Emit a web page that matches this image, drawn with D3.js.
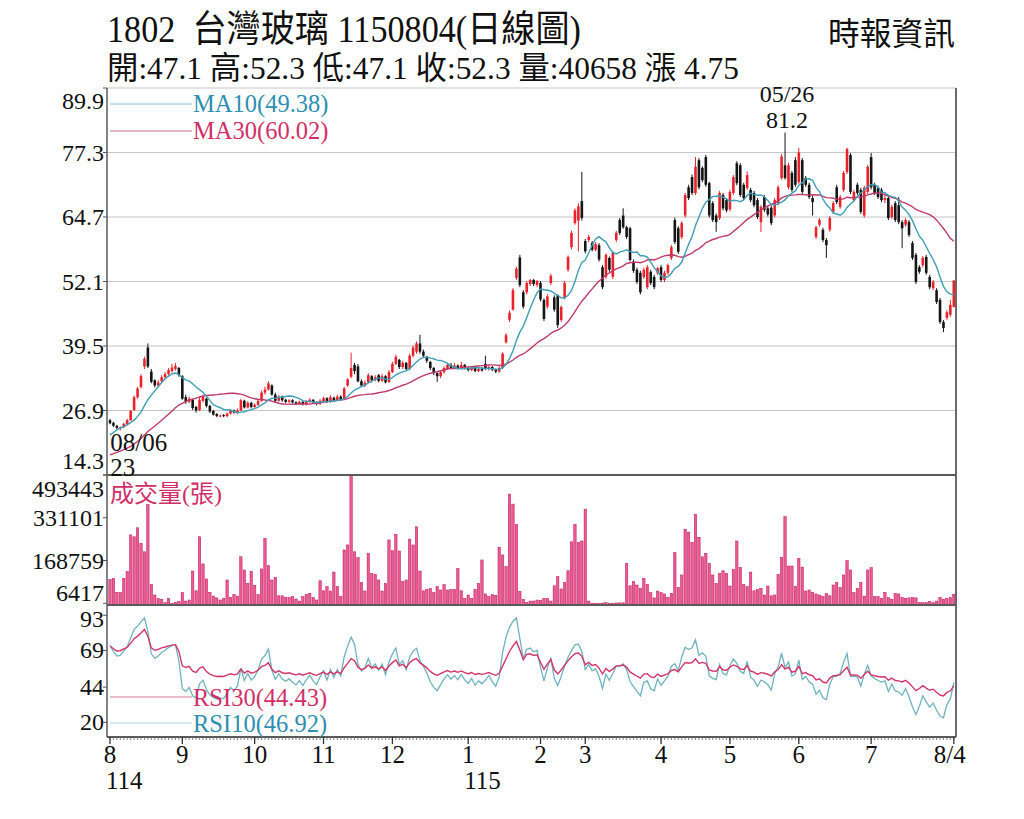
<!DOCTYPE html>
<html>
<head>
<meta charset="utf-8">
<script src="https://cdn.jsdelivr.net/npm/d3@7"></script>
<style>
    body { margin: 0; background: #fff; }
    svg text { font-family: 'Liberation Serif', 'Noto Sans CJK TC', serif; }
</style>
</head>
<body>
<svg id="chart" width="1024" height="819"></svg>
<script>
// daily candles, 2025/08/01 .. 2026/08/04
var opens = [
    25.0,24.5,23.9,23.5,23.7,24.2,25.0,27.0,29.5,31.5,
    35.5,39.2,34.5,32.8,31.8,32.6,33.4,34.0,34.6,35.0,
    35.2,33.6,29.5,28.6,29.0,27.6,27.0,28.8,29.2,27.8,
    26.8,26.2,25.8,26.0,25.8,26.3,26.9,26.5,26.9,28.8,
    27.5,28.4,27.6,28.0,28.8,30.4,31.0,31.8,30.0,28.8,
    29.6,29.0,28.6,28.9,28.5,28.2,28.6,28.1,28.6,29.0,
    28.5,28.2,28.7,29.3,28.6,29.4,28.9,29.6,29.2,31.8,
    33.5,35.8,35.5,32.6,31.8,32.4,33.6,32.8,33.8,32.7,
    33.6,32.5,34.4,36.0,36.8,35.4,36.2,35.0,37.6,38.4,
    40.0,38.4,37.4,36.4,35.2,34.2,33.6,34.4,35.0,35.8,
    35.2,35.7,35.2,35.8,35.2,34.8,35.3,34.6,35.0,36.0,
    35.0,35.4,34.9,34.5,35.2,40.2,44.6,46.6,52.8,56.8,
    50.0,50.0,51.6,52.4,51.4,51.8,48.5,47.2,51.8,49.0,
    49.4,44.6,49.0,54.4,58.8,63.5,64.0,67.8,60.0,60.2,
    59.6,58.3,59.2,54.9,53.0,56.7,53.0,60.2,64.1,65.0,
    62.7,62.5,56.0,54.4,53.8,53.0,51.0,54.0,53.0,53.8,
    54.9,52.4,53.8,56.7,64.1,62.5,60.8,65.0,70.5,72.5,
    69.4,75.8,74.3,76.4,71.3,67.4,65.0,64.5,69.0,68.0,
    66.2,69.4,75.2,74.8,71.0,70.4,70.0,69.4,68.0,63.7,
    68.6,66.4,66.5,65.0,67.4,72.3,74.8,70.5,73.3,75.8,
    71.5,75.8,72.3,71.0,68.4,60.8,63.2,62.2,60.2,62.2,
    65.7,70.5,66.7,70.0,73.5,76.8,68.0,71.0,70.0,65.0,
    69.6,76.4,71.0,70.4,70.0,68.0,68.4,64.7,67.4,67.0,
    63.7,63.2,63.7,59.6,57.3,54.9,55.3,56.9,53.0,50.8,
    50.4,48.5,44.2,45.0,45.6,47.1
];
var highs = [
    25.3,24.7,24.1,23.8,24.5,25.3,27.0,29.8,31.5,34.0,
    37.4,40.0,35.0,33.0,32.8,33.8,34.4,35.2,36.0,36.2,
    35.4,33.8,30.0,29.6,29.2,27.8,29.5,30.0,29.4,28.0,
    27.0,26.4,26.1,26.2,26.5,27.1,27.1,27.3,29.2,29.0,
    28.7,28.6,28.3,29.1,30.8,31.5,32.6,32.0,30.4,29.9,
    29.8,29.2,29.1,29.1,28.7,28.8,28.7,28.9,29.3,29.1,
    28.7,29.1,29.6,29.5,29.9,29.6,30.0,29.9,31.5,33.2,
    38.2,36.2,36.0,33.0,32.8,34.2,33.8,33.8,34.0,34.0,
    33.8,34.8,36.4,37.8,37.0,36.6,36.4,38.0,39.6,40.4,
    41.7,38.8,37.6,36.6,35.4,34.4,34.7,35.5,36.1,36.2,
    36.2,35.9,36.4,36.0,35.4,35.6,35.5,35.3,35.4,37.6,
    35.8,35.6,35.1,35.5,38.3,42.0,46.4,50.8,55.0,57.3,
    50.4,52.2,52.6,52.6,52.4,52.2,48.8,49.6,53.6,49.4,
    49.6,47.4,52.2,57.2,62.0,66.4,67.4,73.5,60.4,61.2,
    60.0,59.8,59.6,55.3,57.6,57.0,58.0,62.0,64.5,66.4,
    63.0,62.8,56.4,54.8,54.2,54.8,55.3,54.4,53.4,55.0,
    55.3,54.2,55.6,59.2,64.6,62.9,63.9,69.4,71.0,73.0,
    76.4,76.2,74.6,76.8,71.6,67.8,65.4,69.8,69.4,68.4,
    70.0,72.9,75.6,75.2,71.4,73.6,70.4,69.8,68.4,67.0,
    69.0,66.8,66.9,68.4,70.9,77.0,81.2,75.3,73.7,76.4,
    78.2,76.2,72.7,71.4,68.8,63.0,64.5,62.6,60.6,64.9,
    67.8,71.0,69.0,73.7,78.2,77.2,70.0,71.4,70.4,70.8,
    74.9,77.2,71.4,70.8,70.4,69.0,68.8,67.1,67.8,68.6,
    64.1,64.5,64.1,60.0,57.7,55.3,57.1,57.3,53.4,52.4,
    50.8,48.9,44.6,46.5,48.5,52.3
];
var lows = [
    24.2,23.7,23.3,23.0,23.5,24.0,24.9,26.8,29.2,31.2,
    35.0,35.2,32.2,31.4,31.5,32.3,33.0,33.7,34.3,34.7,
    33.5,29.0,28.2,28.3,27.0,26.5,26.8,28.5,27.5,26.4,
    25.9,25.6,25.6,25.6,25.6,26.1,26.3,26.2,26.8,27.3,
    27.3,27.3,27.4,27.8,28.6,30.0,30.8,29.8,28.5,28.6,
    28.6,28.3,28.4,28.3,28.0,28.0,27.9,27.9,28.4,28.2,
    27.9,28.0,28.5,28.4,28.4,28.6,28.7,28.8,29.0,31.5,
    33.2,34.0,32.4,31.5,31.5,32.2,32.4,32.6,32.4,32.5,
    32.2,32.3,34.2,35.8,35.0,35.0,34.8,34.8,37.3,38.0,
    38.0,37.2,36.2,34.8,33.8,32.5,33.2,34.1,34.8,35.0,
    35.0,34.9,35.0,35.0,34.5,34.6,34.4,34.4,34.5,34.8,
    34.7,34.6,34.2,34.3,35.0,40.0,44.2,46.4,52.4,51.0,
    46.8,49.6,51.2,51.2,51.0,48.2,44.4,46.8,51.4,46.2,
    43.0,44.2,48.6,54.0,58.4,63.2,58.0,64.0,57.6,59.8,
    58.0,58.0,56.0,50.6,52.6,54.0,52.6,59.8,61.2,62.4,
    60.4,56.0,53.8,51.6,49.6,52.6,50.6,51.4,50.6,53.4,
    52.0,52.0,53.4,56.3,59.4,57.5,60.4,64.6,68.0,69.0,
    69.0,70.1,71.5,70.6,64.6,63.7,61.8,64.1,66.0,65.6,
    65.8,69.0,70.9,68.6,68.0,70.0,67.6,66.6,64.3,61.8,
    65.7,64.8,63.1,64.6,67.0,72.0,72.0,70.1,69.6,70.6,
    71.1,69.2,70.6,68.2,65.0,60.4,62.8,59.8,56.7,61.8,
    65.3,67.2,66.3,69.6,73.1,69.2,67.6,69.0,65.3,64.6,
    69.2,70.1,69.0,68.2,67.6,67.4,64.1,64.3,63.7,63.3,
    58.6,62.8,60.8,56.3,51.6,53.6,54.9,53.4,50.6,50.4,
    47.7,43.8,42.2,44.6,45.2,47.1
];
var closes = [
    24.4,23.9,23.5,23.6,24.3,25.0,26.8,29.5,31.2,33.6,
    37.0,35.5,32.5,31.8,32.4,33.4,34.0,34.8,35.3,35.6,
    33.8,29.2,28.6,29.2,27.4,26.9,29.0,29.6,27.8,26.7,
    26.1,25.8,25.9,25.8,26.3,26.9,26.5,26.9,28.9,27.5,
    28.4,27.6,28.0,28.8,30.4,31.0,32.2,30.0,28.8,29.6,
    28.9,28.6,28.9,28.5,28.2,28.6,28.1,28.6,29.0,28.5,
    28.2,28.8,29.3,28.6,29.5,28.9,29.6,29.1,31.2,33.0,
    35.2,34.6,32.6,31.8,32.3,33.8,32.8,33.4,32.7,33.6,
    32.4,34.4,36.0,37.4,35.4,36.2,35.0,37.6,39.2,40.0,
    38.4,37.6,36.6,35.2,34.2,33.6,34.4,35.2,35.8,35.2,
    35.7,35.2,35.8,35.2,34.8,35.3,34.6,35.0,34.7,35.0,
    35.4,34.9,34.5,35.2,38.0,41.6,46.0,50.4,54.6,51.4,
    47.2,51.8,52.4,51.6,52.2,48.6,44.8,49.2,53.2,46.6,
    43.6,47.1,51.8,56.9,61.6,66.0,66.8,64.5,58.0,60.8,
    58.3,59.4,56.4,51.0,57.3,54.4,57.7,61.6,61.6,62.7,
    60.8,56.3,54.2,52.0,50.0,54.4,54.9,51.8,51.0,54.7,
    52.4,53.8,55.3,58.8,59.8,57.9,63.5,69.0,68.4,69.4,
    74.5,70.5,71.9,71.0,65.0,64.1,63.7,69.4,66.4,66.0,
    69.6,72.5,71.3,69.0,68.4,72.9,68.0,67.0,64.7,66.7,
    66.1,65.2,63.5,68.0,70.5,76.5,72.3,74.8,70.0,71.0,
    77.3,69.6,71.0,68.6,67.6,62.7,64.1,60.2,59.2,64.5,
    67.4,67.6,68.6,73.3,78.0,69.6,69.6,69.4,65.7,70.4,
    74.5,70.5,69.4,68.6,68.0,68.4,64.5,66.7,64.1,63.7,
    62.5,64.1,61.2,56.7,52.0,54.0,56.7,53.8,51.0,52.0,
    48.1,44.2,43.0,46.1,47.55,52.3
];
var volumes = [
    97000,101000,48000,48000,101000,127000,266000,259000,293000,234000,
    202000,382000,78000,38000,25000,22000,9000,25000,7000,10000,
    13000,47000,15000,19000,129000,54000,259000,156000,99000,48000,
    34000,27000,19000,25000,95000,29000,40000,34000,183000,133000,
    82000,127000,75000,40000,137000,253000,149000,95000,105000,35000,
    35000,29000,29000,32000,23000,15000,32000,40000,44000,28000,
    19000,92000,54000,70000,53000,125000,70000,32000,209000,228000,
    493443,202000,180000,86000,53000,196000,120000,116000,95000,53000,
    82000,247000,206000,268000,205000,89000,95000,250000,228000,297000,
    129000,54000,59000,62000,47000,70000,57000,77000,57000,59000,
    59000,138000,54000,25000,38000,25000,59000,82000,171000,42000,
    32000,40000,37000,219000,190000,146000,421000,383000,306000,51000,
    22000,9000,15000,15000,19000,18000,25000,25000,15000,73000,
    108000,61000,86000,130000,240000,306000,238000,243000,364000,15000,
    7200,6417,6800,7500,9000,7000,7000,8000,8000,8500,
    158000,73000,89000,76000,63000,101000,78000,47000,27000,53000,
    47000,42000,28000,44000,199000,67000,114000,288000,277000,238000,
    344000,257000,183000,196000,158000,114000,82000,120000,130000,120000,
    72000,135000,243000,143000,78000,70000,125000,54000,59000,63000,
    38000,72000,35000,38000,116000,180000,335000,148000,148000,70000,
    177000,144000,53000,57000,48000,42000,38000,32000,44000,35000,
    76000,86000,66000,114000,168000,133000,47000,63000,85000,34000,
    133000,142000,32000,32000,25000,48000,28000,22000,44000,42000,
    29000,25000,27000,28000,27000,9000,9000,10000,13000,9000,
    15000,29000,22000,25000,28000,40658
];
// closes of July 2025, only used to warm up the moving averages and RSI
var julyCloses = [
    16.2,16.0,15.8,16.1,16.4,16.2,15.9,16.0,16.3,16.1,
    15.8,15.6,15.9,16.2,16.5,16.3,16.6,16.4,16.8,17.9,
    19.2,18.5,20.3,21.6,20.8,22.9,24.6,23.8,25.3
];

var priceTicks = [14.3, 26.9, 39.5, 52.1, 64.7, 77.3, 89.9];
var volumeTicks = [6417, 168759, 331101, 493443];
var rsiTicks = [20, 44, 69, 93];
var monthIndex = [0, 21, 42, 62, 82, 104, 125, 138, 160, 180, 200, 221, 245];
var monthLabels = ['8', '9', '10', '11', '12', '1', '2', '3', '4', '5', '6', '7', '8/4'];
var yearIndex = [0, 104];
var yearLabels = ['114', '115'];

var titleText = '1802  台灣玻璃 1150804(日線圖)';
var quoteText = '開:47.1 高:52.3 低:47.1 收:52.3 量:40658 漲 4.75';
var sourceText = '時報資訊';
var maLegend = ['MA10(49.38)', 'MA30(60.02)'];
var rsiLegend = ['RSI30(44.43)', 'RSI10(46.92)'];
var volumeLegend = '成交量(張)';
var highNote = ['05/26', '81.2'];
var lowNote = ['08/06', '23'];

var RED = '#e8232b', BLACK = '#151515';
var TEAL = '#3f9db5', CRIMSON = '#d0306a';

var svg = d3.select('#chart');
var left = 107, right = 956;
var priceTop = 88, priceBottom = 475, volumeBottom = 605, rsiBottom = 737;

var x = d3.scaleLinear().domain([0, closes.length - 1]).range([110, 953.8]);
var yPrice = d3.scaleLinear().domain([14.3, 89.9]).range([priceBottom, priceTop]);
var yVolume = d3.scaleLinear().domain([0, 493443]).range([volumeBottom, priceBottom]);
var yRsi = d3.scaleLinear().domain([10, 100]).range([rsiBottom, volumeBottom]);

function movingAverage(all, n, offset) {
    var out = [];
    for (var i = offset; i < all.length; i++) {
        out.push(d3.mean(all.slice(i - n + 1, i + 1)));
    }
    return out;
}

// Wilder smoothing, seeded with a running simple average
function rsi(all, n, offset) {
    var avgGain = 0, avgLoss = 0, out = [];
    for (var k = 1; k < all.length; k++) {
        var ch = all[k] - all[k - 1];
        var g = Math.max(ch, 0), l = Math.max(-ch, 0);
        if (k <= n) {
            avgGain = (avgGain * (k - 1) + g) / k;
            avgLoss = (avgLoss * (k - 1) + l) / k;
        } else {
            avgGain = (avgGain * (n - 1) + g) / n;
            avgLoss = (avgLoss * (n - 1) + l) / n;
        }
        if (k >= offset) {
            out.push(avgGain + avgLoss === 0 ? 50 : 100 * avgGain / (avgGain + avgLoss));
        }
    }
    return out;
}

var allCloses = julyCloses.concat(closes);
var offset = julyCloses.length;
var ma10 = movingAverage(allCloses, 10, offset);
var ma30 = movingAverage(allCloses, 30, offset);
var rsi10 = rsi(allCloses, 10, offset);
var rsi30 = rsi(allCloses, 30, offset);

function clamp(v, lo, hi) { return Math.max(lo, Math.min(hi, v)); }

// grid
svg.append('g').selectAll('line')
    .data(priceTicks.slice(1))
    .enter().append('line')
    .attr('x1', left).attr('x2', right)
    .attr('y1', function (d) { return yPrice(d); })
    .attr('y2', function (d) { return yPrice(d); })
    .attr('stroke', '#c6c6c6').attr('stroke-width', 1.2);

// legend lines sit under the data
svg.append('line').attr('x1', 110).attr('x2', 192).attr('y1', 104).attr('y2', 104)
    .attr('stroke', '#86c0cc').attr('stroke-width', 1);
svg.append('line').attr('x1', 110).attr('x2', 192).attr('y1', 131).attr('y2', 131)
    .attr('stroke', '#c97192').attr('stroke-width', 1);
svg.append('line').attr('x1', 110).attr('x2', 192).attr('y1', 697).attr('y2', 697)
    .attr('stroke', '#d9789a').attr('stroke-width', 1);
svg.append('line').attr('x1', 110).attr('x2', 192).attr('y1', 723).attr('y2', 723)
    .attr('stroke', '#b5d5db').attr('stroke-width', 1);

// candles
var idx = d3.range(closes.length);
var candles = svg.append('g').selectAll('g').data(idx).enter().append('g');
candles.append('line')
    .attr('x1', function (i) { return x(i); })
    .attr('x2', function (i) { return x(i); })
    .attr('y1', function (i) { return yPrice(highs[i]); })
    .attr('y2', function (i) { return yPrice(lows[i]); })
    .attr('stroke', function (i) { return closes[i] >= opens[i] ? RED : BLACK; })
    .attr('stroke-width', 1);
candles.append('rect')
    .attr('x', function (i) { return x(i) - 1.3; })
    .attr('width', 2.6)
    .attr('y', function (i) { return yPrice(Math.max(opens[i], closes[i])); })
    .attr('height', function (i) {
        return Math.max(1, Math.abs(yPrice(opens[i]) - yPrice(closes[i])));
    })
    .attr('fill', function (i) { return closes[i] >= opens[i] ? RED : BLACK; });

var priceLine = d3.line()
    .x(function (d, i) { return x(i); })
    .y(function (d) { return yPrice(d); });
svg.append('path').attr('d', priceLine(ma30))
    .attr('fill', 'none').attr('stroke', '#bf3a6c').attr('stroke-width', 1.4);
svg.append('path').attr('d', priceLine(ma10))
    .attr('fill', 'none').attr('stroke', TEAL).attr('stroke-width', 1.4);

// volume
svg.append('g').selectAll('rect')
    .data(volumes)
    .enter().append('rect')
    .attr('x', function (d, i) { return x(i) - 1.2; })
    .attr('width', 2.4)
    .attr('y', function (d) { return yVolume(d); })
    .attr('height', function (d) { return volumeBottom - yVolume(d); })
    .attr('fill', '#ee5a93')
    .attr('stroke', '#b8175a')
    .attr('stroke-width', 0.5);

// rsi
var rsiLine = d3.line()
    .x(function (d, i) { return x(i); })
    .y(function (d) { return yRsi(d); });
svg.append('path').attr('d', rsiLine(rsi10))
    .attr('fill', 'none').attr('stroke', '#6fb2bf').attr('stroke-width', 1.3);
svg.append('path').attr('d', rsiLine(rsi30))
    .attr('fill', 'none').attr('stroke', '#d33569').attr('stroke-width', 1.4);

// frame
var frame = svg.append('g').attr('stroke', '#5a5a5a');
frame.append('line').attr('x1', left).attr('x2', left).attr('y1', priceTop).attr('y2', rsiBottom).attr('stroke-width', 1.5);
frame.append('line').attr('x1', right).attr('x2', right).attr('y1', priceTop).attr('y2', rsiBottom).attr('stroke-width', 1.8);
[priceBottom, volumeBottom, rsiBottom].forEach(function (y) {
    frame.append('line').attr('x1', left).attr('x2', right).attr('y1', y).attr('y2', y).attr('stroke-width', 2);
});

// day ticks and month ticks along the bottom
svg.append('g').selectAll('line').data(idx).enter().append('line')
    .attr('x1', function (i) { return x(i); }).attr('x2', function (i) { return x(i); })
    .attr('y1', rsiBottom).attr('y2', rsiBottom + 3)
    .attr('stroke', '#666').attr('stroke-width', 0.8);
svg.append('g').selectAll('line').data(monthIndex).enter().append('line')
    .attr('x1', function (i) { return x(i); }).attr('x2', function (i) { return x(i); })
    .attr('y1', rsiBottom).attr('y2', rsiBottom + 7)
    .attr('stroke', '#333').attr('stroke-width', 1.3);

// axis labels
function axisLabels(ticks, scale, lo, hi, fmt) {
    var g = svg.append('g').attr('font-size', 24).attr('fill', '#111').attr('text-anchor', 'end');
    g.selectAll('text').data(ticks).enter().append('text')
        .attr('x', 104)
        .attr('y', function (d) { return clamp(scale(d), lo, hi) + 8; })
        .text(fmt);
    svg.append('g').selectAll('line').data(ticks).enter().append('line')
        .attr('x1', left - 4).attr('x2', left)
        .attr('y1', function (d) { return scale(d); })
        .attr('y2', function (d) { return scale(d); })
        .attr('stroke', '#555');
}
axisLabels(priceTicks, yPrice, priceTop + 13, priceBottom - 14, function (d) { return d.toFixed(1); });
axisLabels(volumeTicks, yVolume, priceBottom + 14, volumeBottom - 12, function (d) { return d; });
axisLabels(rsiTicks, yRsi, volumeBottom + 14, rsiBottom - 14, function (d) { return d; });

var months = svg.append('g').attr('font-size', 25).attr('fill', '#111').attr('text-anchor', 'middle');
months.selectAll('text').data(monthIndex).enter().append('text')
    .attr('x', function (i, k) { return k === monthIndex.length - 1 ? x(i) - 4 : x(i); })
    .attr('y', 763)
    .text(function (d, k) { return monthLabels[k]; });
svg.append('g').attr('font-size', 25).attr('fill', '#111')
    .selectAll('text').data(yearIndex).enter().append('text')
    .attr('x', function (i) { return x(i) - 4; })
    .attr('y', 789)
    .text(function (d, k) { return yearLabels[k]; });

// titles
svg.append('text').attr('x', 107).attr('y', 42).attr('font-size', 37)
    .attr('textLength', 474).attr('lengthAdjust', 'spacingAndGlyphs')
    .style('white-space', 'pre').attr('fill', '#111').text(titleText);
svg.append('text').attr('x', 107).attr('y', 79).attr('font-size', 32)
    .attr('textLength', 632).attr('lengthAdjust', 'spacingAndGlyphs')
    .attr('fill', '#111').text(quoteText);
svg.append('text').attr('x', 828).attr('y', 45).attr('font-size', 32)
    .attr('textLength', 127).attr('lengthAdjust', 'spacingAndGlyphs')
    .attr('fill', '#111').text(sourceText);

// legends
svg.append('text').attr('x', 193).attr('y', 112).attr('font-size', 24.5).attr('fill', '#2f8fb1').text(maLegend[0]);
svg.append('text').attr('x', 193).attr('y', 139).attr('font-size', 24.5).attr('fill', CRIMSON).text(maLegend[1]);
svg.append('text').attr('x', 193).attr('y', 706).attr('font-size', 24.5).attr('fill', CRIMSON).text(rsiLegend[0]);
svg.append('text').attr('x', 193).attr('y', 732).attr('font-size', 24.5).attr('fill', '#2f8fb1').text(rsiLegend[1]);
svg.append('text').attr('x', 110).attr('y', 502).attr('font-size', 24).attr('fill', CRIMSON).text(volumeLegend);

// high / low notes
var hiIndex = highs.indexOf(d3.max(highs));
var loIndex = lows.indexOf(d3.min(lows));
svg.append('text').attr('x', x(hiIndex) + 2).attr('y', 102).attr('font-size', 24)
    .attr('text-anchor', 'middle').attr('fill', '#111').text(highNote[0]);
svg.append('text').attr('x', x(hiIndex) + 2).attr('y', 128).attr('font-size', 24)
    .attr('text-anchor', 'middle').attr('fill', '#111').text(highNote[1]);
svg.append('text').attr('x', x(loIndex) - 10).attr('y', 451).attr('font-size', 25)
    .attr('fill', '#111').text(lowNote[0]);
svg.append('text').attr('x', x(loIndex) - 10).attr('y', 476).attr('font-size', 25)
    .attr('fill', '#111').text(lowNote[1]);
</script>
</body>
</html>
